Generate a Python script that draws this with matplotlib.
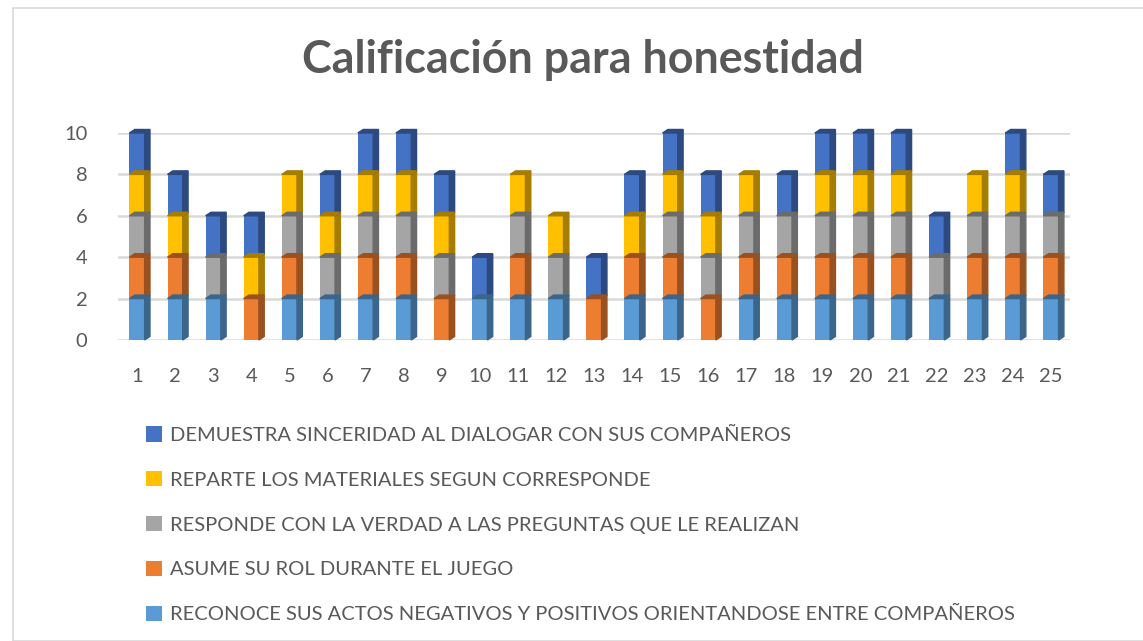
import numpy as np
import matplotlib.pyplot as plt
from matplotlib.patches import Polygon, Rectangle
from matplotlib.colors import to_rgb

plt.rcParams['font.family'] = ['Lato', 'DejaVu Sans']

estudiantes = [str(i) for i in range(1, 26)]

reconoce  = [2, 2, 2, 0, 2, 2, 2, 2, 0, 2, 2, 2, 0, 2, 2, 0, 2, 2, 2, 2, 2, 2, 2, 2, 2]
asume     = [2, 2, 0, 2, 2, 0, 2, 2, 2, 0, 2, 0, 2, 2, 2, 2, 2, 2, 2, 2, 2, 0, 2, 2, 2]
responde  = [2, 0, 2, 0, 2, 2, 2, 2, 2, 0, 2, 2, 0, 0, 2, 2, 2, 2, 2, 2, 2, 2, 2, 2, 2]
reparte   = [2, 2, 0, 2, 2, 2, 2, 2, 2, 0, 2, 2, 0, 2, 2, 2, 2, 0, 2, 2, 2, 0, 2, 2, 0]
demuestra = [2, 2, 2, 2, 0, 2, 2, 2, 2, 2, 0, 0, 2, 2, 2, 2, 0, 2, 2, 2, 2, 2, 0, 2, 2]

series = [
    ("RECONOCE SUS ACTOS NEGATIVOS Y POSITIVOS ORIENTANDOSE ENTRE COMPAÑEROS", reconoce, "#5B9BD5"),
    ("ASUME SU ROL DURANTE EL JUEGO", asume, "#ED7D31"),
    ("RESPONDE CON LA VERDAD A LAS PREGUNTAS QUE LE REALIZAN", responde, "#A5A5A5"),
    ("REPARTE LOS MATERIALES SEGUN CORRESPONDE", reparte, "#FFC000"),
    ("DEMUESTRA SINCERIDAD AL DIALOGAR CON SUS COMPAÑEROS", demuestra, "#4472C4"),
]

txt = "#595959"
fig = plt.figure(figsize=(11.43, 6.41), dpi=100)
fig.patches.append(Rectangle((13/1143, 0), 1.2, 1 - 8/641, transform=fig.transFigure,
                             fill=False, edgecolor="#D9D9D9", lw=1.2))
ax = fig.add_axes([118/1143, 1 - 340/641, 952/1143, 207/641])

x = np.arange(1, 26)
w = 0.40
dx, dy = 0.14, 0.17   # fake 3d depth
bottom = np.zeros(25)
handles = []
for name, vals, col in series:
    vals = np.array(vals, dtype=float)
    b = ax.bar(x, vals, w, bottom=bottom, color=col, label=name, zorder=3)
    handles.append(b)
    dark = tuple(c * 0.65 for c in to_rgb(col))
    for xi, v, b0 in zip(x, vals, bottom):
        if v == 0:
            continue
        r = xi + w / 2
        side = [(r, b0), (r + dx, b0 + dy), (r + dx, b0 + v + dy), (r, b0 + v)]
        ax.add_patch(Polygon(side, closed=True, color=dark, zorder=3, clip_on=False))
        top = [(xi - w / 2, b0 + v), (xi - w / 2 + dx, b0 + v + dy), (r + dx, b0 + v + dy), (r, b0 + v)]
        ax.add_patch(Polygon(top, closed=True, color=dark, zorder=4, clip_on=False))
    bottom += vals

ax.set_xlim(0.5, 25.5)
ax.set_ylim(0, 10)
ax.set_yticks(range(0, 11, 2))
ax.set_xticks(x)
ax.set_xticklabels(estudiantes)
ax.yaxis.grid(True, color="#D9D9D9", lw=1.8, zorder=0)
ax.set_axisbelow(True)
for s in ax.spines.values():
    s.set_visible(False)
ax.tick_params(length=0, labelsize=14.5, colors=txt)
ax.tick_params(axis='x', pad=20)
ax.tick_params(axis='y', pad=22)

fig.text(583/1143, 1 - 60/641, "Calificación para honestidad", ha="center", va="center",
         fontsize=32.3, fontweight="bold", color=txt)

fig.legend(handles[::-1], [s[0] for s in series][::-1], loc="upper left",
           bbox_to_anchor=(128/1143, 1 - 408/641), frameon=False, fontsize=14.5,
           labelcolor=txt, handlelength=0.8, handleheight=0.8, handletextpad=0.4,
           labelspacing=1.35)

fig.savefig("out.png", dpi=100)
